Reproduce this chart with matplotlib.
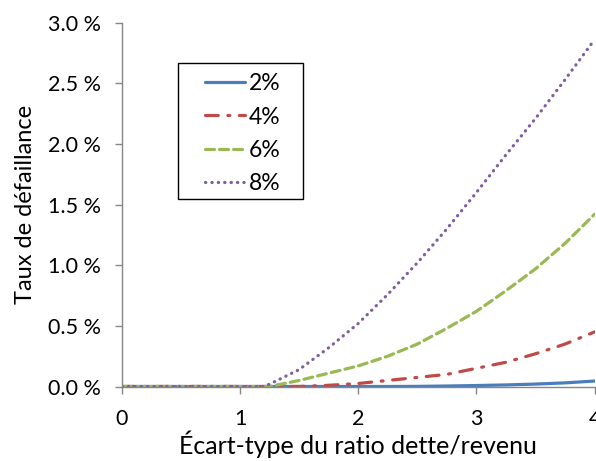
import matplotlib
matplotlib.use('Agg')
import matplotlib.pyplot as plt
from matplotlib.patches import Rectangle
from matplotlib.ticker import FuncFormatter

# x: ecart-type du ratio dette/revenu
x = [0, 0.25, 0.5, 0.75, 1.0, 1.2, 1.25, 1.5, 1.75, 2.0, 2.25, 2.5, 2.75, 3.0, 3.25, 3.5, 3.75, 4.0]

# taux de defaillance (%) par taux d'interet
y_2 = [0, 0, 0, 0, 0, 0, 0, 0, 0, 0, 0, 0.001, 0.004, 0.008, 0.013, 0.02, 0.03, 0.045]
y_4 = [0, 0, 0, 0, 0, 0, 0, 0, 0.01, 0.025, 0.05, 0.075, 0.10, 0.15, 0.20, 0.27, 0.35, 0.45]
y_6 = [0, 0, 0, 0, 0, 0, 0.0, 0.05, 0.11, 0.17, 0.25, 0.35, 0.48, 0.62, 0.79, 0.97, 1.18, 1.42]
y_8 = [0, 0, 0, 0, 0, 0, 0.02, 0.14, 0.32, 0.52, 0.76, 1.02, 1.30, 1.60, 1.91, 2.21, 2.53, 2.86]

labels = ['2%', '4%', '6%', '8%']

plt.rcParams['font.family'] = ['Lato', 'DejaVu Sans']

fig = plt.figure(figsize=(5.96, 4.61), dpi=100)
ax = fig.add_axes([0.2047, 0.1616, 0.793, 0.7895])

lw = 2.3
ax.plot(x, y_2, color='#4A7EBB', lw=lw, label=labels[0], solid_capstyle='round')
ax.plot(x, y_4, color='#BE4B48', lw=lw, label=labels[1], dashes=(4, 3, 0.6, 3),
        dash_capstyle='round')
ax.plot(x, y_6, color='#98B954', lw=lw, label=labels[2], dashes=(2.8, 1.6),
        dash_capstyle='round')
ax.plot(x, y_8, color='#7D60A0', lw=lw, label=labels[3], dashes=(0.1, 1.9),
        dash_capstyle='round')

ax.set_xlim(0, 4)
ax.set_ylim(0, 3.0)
ax.set_xticks([0, 1, 2, 3, 4])
ax.set_yticks([0, 0.5, 1.0, 1.5, 2.0, 2.5, 3.0])
ax.yaxis.set_major_formatter(FuncFormatter(lambda v, p: f'{v:.1f} %'))

for s in ['top', 'right']:
    ax.spines[s].set_visible(False)
for s in ['left', 'bottom']:
    ax.spines[s].set_color('#868686')
    ax.spines[s].set_linewidth(1)
ax.tick_params(colors='#868686', labelcolor='black', labelsize=15.5, length=5, width=1)
ax.tick_params(axis='x', pad=11)
ax.tick_params(axis='y', pad=10)

ax.set_xlabel('Écart-type du ratio dette/revenu', fontsize=18, labelpad=1)
ax.set_ylabel('Taux de défaillance', fontsize=17, labelpad=9)

# legend box drawn by hand, the legend itself has no frame
ax.add_patch(Rectangle((0.1184, 0.515), 0.2643, 0.3737, transform=ax.transAxes,
                       facecolor='white', edgecolor='black', lw=1, zorder=4))
leg = ax.legend(loc='upper left', bbox_to_anchor=(0.1755, 0.861), fontsize=16.5,
                handlelength=1.75, handletextpad=0.15, labelspacing=0.54,
                borderpad=0, borderaxespad=0, frameon=False)
leg.set_zorder(5)

fig.savefig('out.png', dpi=100)
